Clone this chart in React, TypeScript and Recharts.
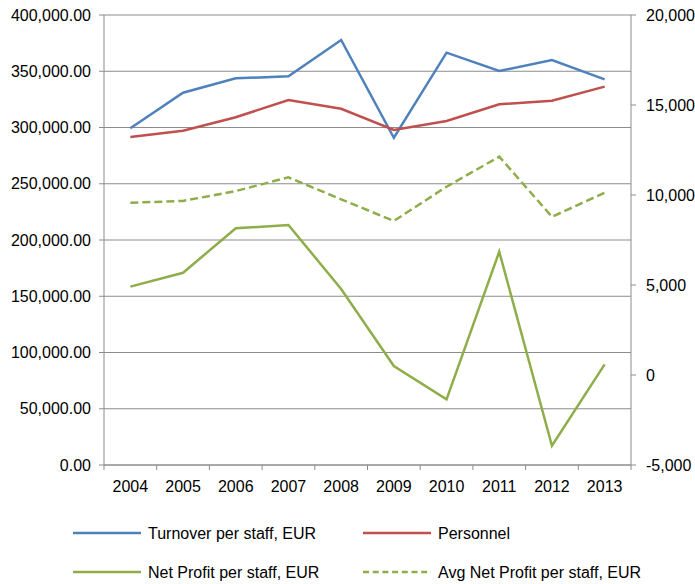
import { LineChart, Line, CartesianGrid, XAxis, YAxis, Legend } from "recharts";

const years = ["2004", "2005", "2006", "2007", "2008", "2009", "2010", "2011", "2012", "2013"];
const turnover = [299300, 330900, 343700, 345500, 377800, 290900, 366500, 350200, 360000, 342800];
const personnel = [13220, 13570, 14320, 15280, 14790, 13610, 14110, 15040, 15240, 16020];
const netProfit = [4910, 5680, 8150, 8330, 4780, 500, -1350, 6850, -3930, 590];
const avgNetProfit = [9570, 9670, 10220, 10980, 9760, 8560, 10460, 12130, 8790, 10130];

const leftTicks = [0, 50000, 100000, 150000, 200000, 250000, 300000, 350000, 400000];
const rightTicks = [-5000, 0, 5000, 10000, 15000, 20000];

const data = years.map((year, i) => ({
    year,
    turnover: turnover[i],
    personnel: personnel[i],
    netProfit: netProfit[i],
    avgNetProfit: avgNetProfit[i],
}));

const FONT = '"Liberation Sans", Arial, sans-serif';
const GRID = "#8c8c8c";
const BLUE = "#4F81BD";
const RED = "#C0504D";
const GREEN = "#8FAD4A";

const W = 695;
const H = 584;
const LEFT_W = 104;
const RIGHT_W = 64;
const BAND = (W - LEFT_W - RIGHT_W) / years.length;

const fmtLeft = (v: number) =>
    v.toLocaleString("en-US", { minimumFractionDigits: 2, maximumFractionDigits: 2 });
const fmtRight = (v: number) => v.toLocaleString("en-US");

function YearTick(props: any) {
    const { x, y, payload, index } = props;
    return (
        <g>
            <line x1={x - BAND / 2} x2={x - BAND / 2} y1={y} y2={y + 5} stroke={GRID} strokeWidth={1} />
            {index === years.length - 1 && (
                <line x1={x + BAND / 2} x2={x + BAND / 2} y1={y} y2={y + 5} stroke={GRID} strokeWidth={1} />
            )}
            <text x={x} y={y + 27} textAnchor="middle" fontSize={16} fill="#000" fontFamily={FONT}>
                {payload.value}
            </text>
        </g>
    );
}

const legendItems = [
    { label: "Turnover per staff, EUR", color: BLUE, dash: undefined, col: 0, row: 0 },
    { label: "Personnel", color: RED, dash: undefined, col: 1, row: 0 },
    { label: "Net Profit per staff, EUR", color: GREEN, dash: undefined, col: 0, row: 1 },
    { label: "Avg Net Profit per staff, EUR", color: GREEN, dash: "6 3.7", col: 1, row: 1 },
];

// legend sits in the bottom 79px of the chart
function ChartLegend() {
    const colX = [73, 363];
    const rowY = [28, 67];
    return (
        <svg width={W} height={79} style={{ display: "block" }}>
            {legendItems.map((it) => (
                <g key={it.label}>
                    <line
                        x1={colX[it.col]}
                        x2={colX[it.col] + 68}
                        y1={rowY[it.row]}
                        y2={rowY[it.row]}
                        stroke={it.color}
                        strokeWidth={2.5}
                        strokeDasharray={it.dash}
                    />
                    <text
                        x={colX[it.col] + 75}
                        y={rowY[it.row]}
                        dy="0.36em"
                        fontSize={16}
                        fill="#000"
                        fontFamily={FONT}
                    >
                        {it.label}
                    </text>
                </g>
            ))}
        </svg>
    );
}

export default function App() {
    return (
        <div style={{ position: "absolute", left: 0, top: 0, width: W, height: H, background: "#fff", fontFamily: FONT }}>
            <LineChart width={W} height={H} data={data} margin={{ top: 15, right: 0, bottom: 0, left: 0 }}>
                <CartesianGrid yAxisId="left" vertical={false} stroke={GRID} strokeWidth={1} />
                <XAxis
                    dataKey="year"
                    height={40}
                    stroke={GRID}
                    tickLine={false}
                    tickSize={0}
                    tickMargin={0}
                    interval={0}
                    padding={{ left: BAND / 2, right: BAND / 2 }}
                    tick={<YearTick />}
                />
                <YAxis
                    yAxisId="left"
                    width={LEFT_W}
                    domain={[0, 400000]}
                    ticks={leftTicks}
                    tickFormatter={fmtLeft}
                    stroke={GRID}
                    tickSize={5}
                    tickMargin={8}
                    tick={{ fill: "#000", fontSize: 16, fontFamily: FONT }}
                />
                <YAxis
                    yAxisId="right"
                    orientation="right"
                    width={RIGHT_W}
                    domain={[-5000, 20000]}
                    ticks={rightTicks}
                    tickFormatter={fmtRight}
                    stroke={GRID}
                    tickSize={5}
                    tickMargin={10}
                    tick={{ fill: "#000", fontSize: 16, fontFamily: FONT, textAnchor: "start" }}
                />
                <Legend
                    verticalAlign="bottom"
                    content={<ChartLegend />}
                    wrapperStyle={{ left: 0, bottom: 0, width: W, height: 79 }}
                />
                <Line yAxisId="left" dataKey="turnover" stroke={BLUE} strokeWidth={2.5} dot={false} isAnimationActive={false} />
                <Line yAxisId="right" dataKey="personnel" stroke={RED} strokeWidth={2.5} dot={false} isAnimationActive={false} />
                <Line yAxisId="right" dataKey="netProfit" stroke={GREEN} strokeWidth={2.5} dot={false} isAnimationActive={false} />
                <Line
                    yAxisId="right"
                    dataKey="avgNetProfit"
                    stroke={GREEN}
                    strokeWidth={2.5}
                    strokeDasharray="8 4"
                    dot={false}
                    isAnimationActive={false}
                />
            </LineChart>
        </div>
    );
}
